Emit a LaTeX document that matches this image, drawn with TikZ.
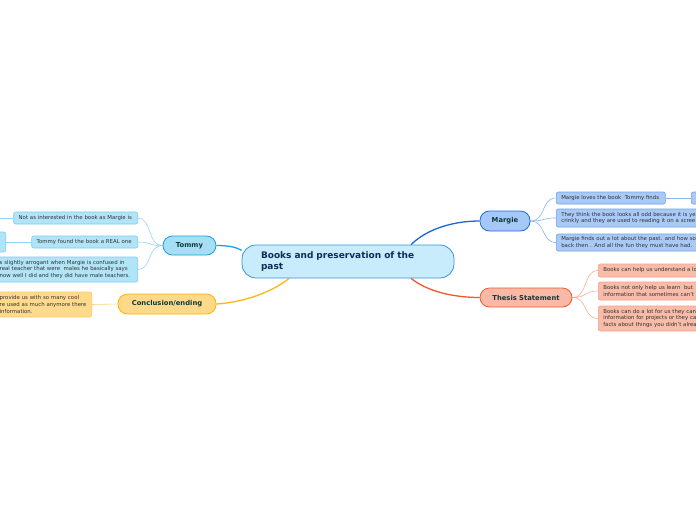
\documentclass[tikz,border=0pt]{standalone}
\usepackage{fontspec}
\setmainfont{DejaVu Sans}
\usetikzlibrary{backgrounds}
\pgfdeclarelayer{bottom}
\pgfsetlayers{bottom,background,main}
\definecolor{cenfill}{HTML}{C8ECFB}
\definecolor{cendraw}{HTML}{3D93D6}
\definecolor{centext}{HTML}{102A5A}
\definecolor{toptext}{HTML}{0E3B36}
\definecolor{chtext}{HTML}{333333}
\definecolor{mfill}{HTML}{A5C8F8}
\definecolor{mdraw}{HTML}{1F6FD8}
\definecolor{mline}{HTML}{1A66D6}
\definecolor{mcfill}{HTML}{A9CAF7}
\definecolor{mcdraw}{HTML}{6FA2EA}
\definecolor{mcline}{HTML}{8AB4F0}
\definecolor{tfill}{HTML}{F9B9A6}
\definecolor{tdraw}{HTML}{F05A28}
\definecolor{tline}{HTML}{F0582A}
\definecolor{tcfill}{HTML}{F9BCA9}
\definecolor{tcdraw}{HTML}{F7A088}
\definecolor{tcline}{HTML}{F8AC95}
\definecolor{yfill}{HTML}{A6DEF6}
\definecolor{ydraw}{HTML}{1BA1E2}
\definecolor{yline}{HTML}{1BA1E2}
\definecolor{ycfill}{HTML}{B2E4F8}
\definecolor{ycdraw}{HTML}{7CCEF0}
\definecolor{ycline}{HTML}{93D5F2}
\definecolor{cfill}{HTML}{FFD98A}
\definecolor{cdraw}{HTML}{F8B500}
\definecolor{cline}{HTML}{FBB714}
\definecolor{ccfill}{HTML}{FFDA8C}
\definecolor{ccdraw}{HTML}{FCCB60}
\definecolor{ccline}{HTML}{FDD27A}
\tikzset{
  central/.style={draw=cendraw, fill=cenfill, rounded corners=14pt, line width=0.8pt,
    text=centext, font=\fontsize{9}{11}\bfseries\selectfont, align=left,
    inner xsep=19pt, inner ysep=0pt, text width=174pt, minimum height=33pt},
  topic/.style={rounded corners=9.5pt, line width=0.8pt, text=toptext,
    font=\fontsize{6.8}{8}\bfseries\selectfont, inner sep=0pt},
  child/.style={rounded corners=2pt, line width=0.6pt, text=chtext,
    font=\fontsize{5.4}{6.6}\selectfont, align=left, inner xsep=5pt, inner ysep=0pt},
  mchild/.style={child, draw=mcdraw, fill=mcfill},
  tchild/.style={child, draw=tcdraw, fill=tcfill},
  ychild/.style={child, draw=ycdraw, fill=ycfill},
  cchild/.style={child, draw=ccdraw, fill=ccfill},
  mainline/.style={line width=1.3pt},
  subline/.style={line width=0.6pt}
}
\begin{document}
\begin{tikzpicture}[x=1pt,y=-1pt]
\begin{pgfonlayer}{bottom}
\fill[white] (0,0) rectangle (696,520);
\end{pgfonlayer}
\useasboundingbox (0,0) rectangle (696,520);
\clip (0,0) rectangle (696,520);
% central
\node[central] (cen) at (348,261.5) {Books and preservation of the\\past};
% topics
\node[topic, draw=mdraw, fill=mfill, minimum width=50pt, minimum height=20pt] (margie) at (505,221) {Margie};
\node[topic, draw=tdraw, fill=tfill, minimum width=92pt, minimum height=19pt] (thesis) at (526,297.5) {Thesis Statement};
\node[topic, draw=ydraw, fill=yfill, minimum width=53pt, minimum height=19pt] (tommy) at (189.5,245.5) {Tommy};
\node[topic, draw=cdraw, fill=cfill, minimum width=98pt, minimum height=20pt] (concl) at (167,304) {Conclusion/ending};
% Margie children
\node[mchild, anchor=west, text width=99pt, minimum height=12pt] (m1) at (556,198) {Margie loves the book\ \ Tommy finds};
\node[mchild, anchor=west, text width=60pt, minimum height=12pt] (m1b) at (691,198) {T};
\node[mchild, anchor=west, text width=170pt, minimum height=18pt] (m2) at (556,218) {They think the book looks all odd because it is ye\\crinkly and they are used to reading it on a scree};
\node[mchild, anchor=west, text width=170pt, minimum height=17pt] (m3) at (556,242.5) {Margie finds out a lot about the past. and how so\\back then . And all the fun they must have had.};
% Thesis children
\node[tchild, anchor=west, text width=130pt, minimum height=13pt] (t1) at (598,270.5) {Books can help us understand a lo};
\node[tchild, anchor=west, text width=130pt, minimum height=18pt] (t2) at (598,291) {Books not only help us learn\ \ but\\information that sometimes can't};
\node[tchild, anchor=west, text width=130pt, minimum height=25pt] (t3) at (598,318.5) {Books can do a lot for us they can\\information for projects or they ca\\facts about things you didn't alrea};
% Tommy children
\node[ychild, anchor=east, text width=114pt, minimum height=12pt] (y1) at (138,218) {Not as interested in the book as Margie is};
\coordinate (y1b) at (-10,218);
\node[ychild, anchor=east, text width=96pt, minimum height=12pt] (y2) at (138,242) {Tommy found the book a REAL one};
\node[ychild, anchor=east, text width=40pt, minimum height=20pt] (y2b) at (6,242) {};
\node[ychild, anchor=east, text width=133pt, minimum height=25pt] (y3) at (138,269.5) {s slightly arrogant when Margie is confused in\\real teacher that were\ \ males he basically says\\now well I did and they did have male teachers.};
% Conclusion child
\node[cchild, anchor=east, text width=87pt, minimum height=25pt] (c1) at (92,304.5) {provide us with so many cool\\re used as much anymore there\\information.};
\begin{scope}[on background layer]
% main connectors
\draw[mainline, mline] (cen.15) .. controls (428,228) and (455,221) .. (margie.west);
\draw[mainline, tline] (cen.-15) .. controls (428,292) and (455,297.5) .. (thesis.west);
\draw[mainline, yline] (tommy.east) .. controls (228,245.5) and (236,247) .. (cen.174);
\draw[mainline, cline] (concl.east) .. controls (245,302) and (272,292) .. (cen.196);
% Margie sub
\draw[subline, mcline] (margie.east) .. controls (546,221) and (541,198) .. (m1.west);
\draw[subline, mcline] (margie.east) .. controls (546,221) and (541,218) .. (m2.west);
\draw[subline, mcline] (margie.east) .. controls (546,221) and (541,242.5) .. (m3.west);
\draw[subline, mcline] (m1.east) -- (m1b.west);
% Thesis sub
\draw[subline, tcline] (thesis.east) .. controls (588,297.5) and (583,270.5) .. (t1.west);
\draw[subline, tcline] (thesis.east) .. controls (588,297.5) and (583,291) .. (t2.west);
\draw[subline, tcline] (thesis.east) .. controls (588,297.5) and (583,318.5) .. (t3.west);
% Tommy sub
\draw[subline, ycline] (tommy.west) .. controls (147,245.5) and (152,218) .. (y1.east);
\draw[subline, ycline] (tommy.west) .. controls (147,245.5) and (152,242) .. (y2.east);
\draw[subline, ycline] (tommy.west) .. controls (147,245.5) and (152,269.5) .. (y3.east);
\draw[subline, ycline] (y1.west) -- (y1b);
\draw[subline, ycline] (y2b.east) -- (y2.west);
% Conclusion sub
\draw[subline, ccline] (concl.west) -- (c1.east);
\end{scope}
\end{tikzpicture}
\end{document}
